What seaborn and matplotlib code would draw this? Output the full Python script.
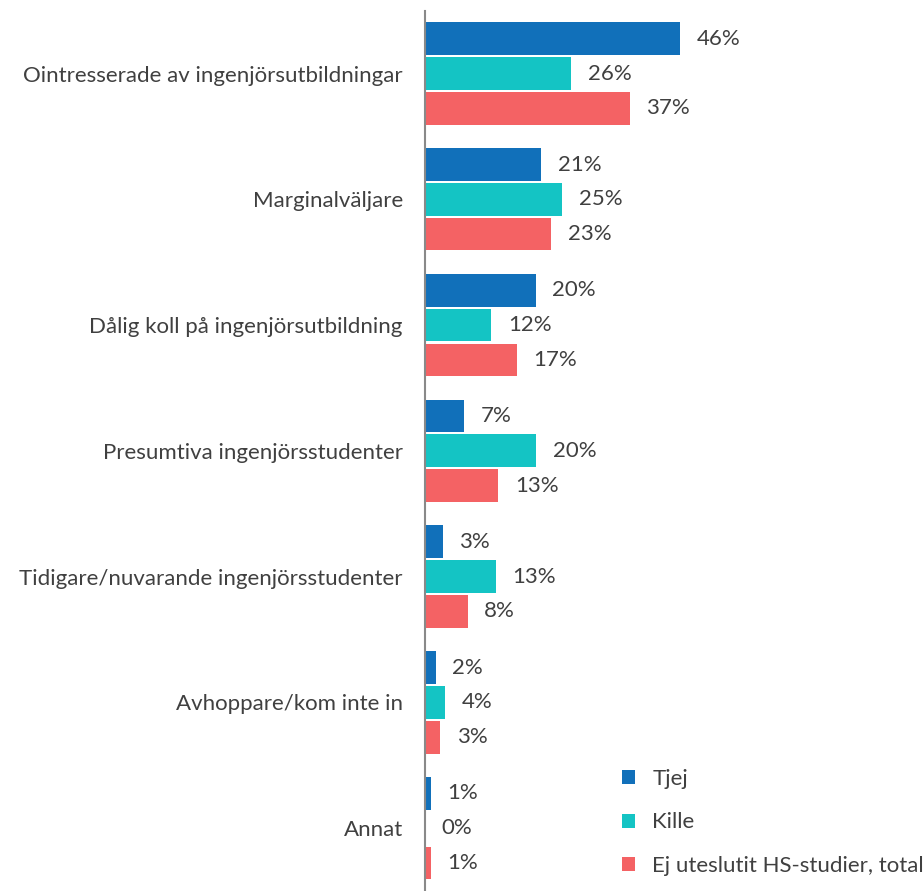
import pandas as pd
import seaborn as sns
import matplotlib.pyplot as plt

# Data
kategorier = [
    "Ointresserade av ingenjörsutbildningar",
    "Marginalväljare",
    "Dålig koll på ingenjörsutbildning",
    "Presumtiva ingenjörsstudenter",
    "Tidigare/nuvarande ingenjörsstudenter",
    "Avhoppare/kom inte in",
    "Annat",
]
serier = ["Tjej", "Kille", "Ej uteslutit HS-studier, total"]
tjej = [46.1, 21.0, 20.0, 7.0, 3.2, 1.9, 1.0]
kille = [26.4, 24.8, 12.0, 20.1, 12.8, 3.6, 0.0]
ej_uteslutit = [37.0, 22.8, 16.6, 13.2, 7.7, 2.7, 1.0]
farger = ["#1170BA", "#14C4C4", "#F46264"]

df = pd.DataFrame({
    "kategori": kategorier * 3,
    "serie": [s for s in serier for _ in kategorier],
    "andel": tjej + kille + ej_uteslutit,
})

sns.set_style("white")
plt.rcParams["font.family"] = ["Lato", "DejaVu Sans"]
textfarg = "#404040"

fig = plt.figure(figsize=(9.23, 8.91), dpi=100)
ax = fig.add_axes([0.4605, 0.0, 0.5395, 0.988])

sns.barplot(data=df, y="kategori", x="andel", hue="serie", order=kategorier,
            hue_order=serier, palette=farger, saturation=1, orient="h",
            width=0.83, gap=0.06, linewidth=0, errorbar=None, ax=ax)

for c in ax.containers:
    ax.bar_label(c, labels=[f"{v:.0f}%" for v in c.datavalues], padding=12,
                 fontsize=16, color=textfarg)

ax.set_xlim(0, 90)
ax.set_ylim(6.5, -0.5)
ax.set_xlabel("")
ax.set_ylabel("")
ax.set_xticks([])
ax.tick_params(axis="y", left=False, pad=12.5, labelsize=16, labelcolor=textfarg)
for s in ["top", "right", "bottom"]:
    ax.spines[s].set_visible(False)
ax.spines["left"].set_color("#898989")
ax.spines["left"].set_linewidth(1.5)

handles, labels = ax.get_legend_handles_labels()
ax.get_legend().remove()
fig.legend(handles, labels, loc="center left", bbox_to_anchor=(0.662, 0.077),
           frameon=False, fontsize=16, handlelength=0.6, handleheight=0.6,
           handletextpad=0.75, labelspacing=1.05, borderpad=0, labelcolor=textfarg)

plt.savefig("out.png", dpi=100)
